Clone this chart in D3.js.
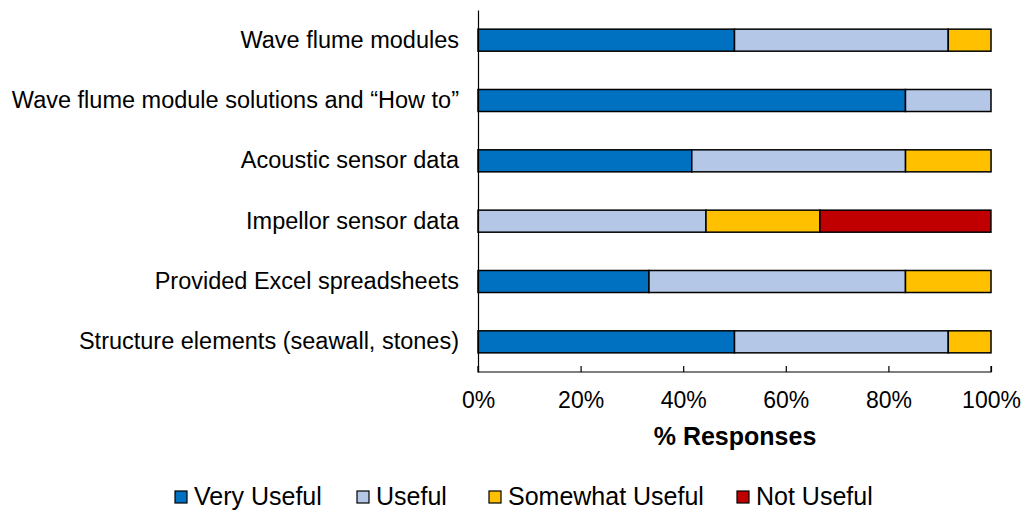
<!DOCTYPE html>
<html><head><meta charset="utf-8">
<script src="https://cdn.jsdelivr.net/npm/d3@7"></script>
<style>body{margin:0;background:#fff;} text{font-family:"Liberation Sans",Arial,sans-serif;fill:#000;}</style>
</head><body><svg id="c" width="1025" height="518"></svg>
<script>
const categories = ["Wave flume modules","Wave flume module solutions and \u201cHow to\u201d","Acoustic sensor data","Impellor sensor data","Provided Excel spreadsheets","Structure elements (seawall, stones)"];
const seriesNames = ["Very Useful","Useful","Somewhat Useful","Not Useful"];
const veryUseful = [50, 83.33, 41.67, 0, 33.33, 50];
const useful = [41.67, 16.67, 41.67, 44.44, 50, 41.67];
const somewhatUseful = [8.33, 0, 16.67, 22.22, 16.67, 8.33];
const notUseful = [0, 0, 0, 33.33, 0, 0];
const xTicks = [0,20,40,60,80,100];
const colors = ["#0070C0","#B4C7E7","#FFC000","#C00000"];

const svg = d3.select("#c");
const x = d3.scaleLinear().domain([0,100]).range([478,991]);
const y = d3.scaleBand().domain(categories).range([10,372]).paddingInner(0.635).paddingOuter(0.3175);

const rows = categories.map((c,i)=>({cat:c, vals:[veryUseful[i],useful[i],somewhatUseful[i],notUseful[i]]}));
const stack = d3.stack().keys([0,1,2,3]).value((d,k)=>d.vals[k]);
const layers = stack(rows);

layers.forEach((layer,k)=>{
  svg.append("g").selectAll("rect").data(layer.filter(d=>d[1]-d[0]>0)).join("rect")
    .attr("x",d=>x(d[0])).attr("width",d=>x(d[1])-x(d[0]))
    .attr("y",d=>y(d.data.cat)).attr("height",y.bandwidth())
    .attr("fill",colors[k]).attr("stroke","#000").attr("stroke-width",1.5);
});

// x axis
const xa = svg.append("g").attr("transform","translate(0,372)")
  .call(d3.axisBottom(x).tickValues(xTicks).tickSize(-6).tickPadding(0).tickFormat(d=>d+"%"));
xa.select(".domain").attr("stroke","#000").attr("stroke-width",1.2).attr("d","M478,-6V0H991V-6");
xa.selectAll(".tick line").attr("stroke","#000").attr("stroke-width",1.2);
xa.selectAll(".tick text").attr("font-size",23).attr("font-family","Liberation Sans, Arial, sans-serif")
  .attr("y",36).attr("dy",null);

// y axis
const ya = svg.append("g").attr("transform","translate(478,0)")
  .call(d3.axisLeft(y).tickSize(0).tickPadding(19));
ya.select(".domain").attr("stroke","#000").attr("stroke-width",1.2);
ya.selectAll(".tick text").attr("font-size",23.5).attr("font-family","Liberation Sans, Arial, sans-serif");

svg.append("text").attr("x",735).attr("y",445).attr("text-anchor","middle")
  .attr("font-size",25).attr("font-weight","bold").text("% Responses");

// legend
const legX = [175,357,489,737];
const lg = svg.append("g");
seriesNames.forEach((n,i)=>{
  lg.append("rect").attr("x",legX[i]).attr("y",491).attr("width",12).attr("height",12)
    .attr("fill",colors[i]).attr("stroke","#000").attr("stroke-width",1.2);
  lg.append("text").attr("x",legX[i]+19).attr("y",505).attr("font-size",25).text(n);
});
</script></body></html>
